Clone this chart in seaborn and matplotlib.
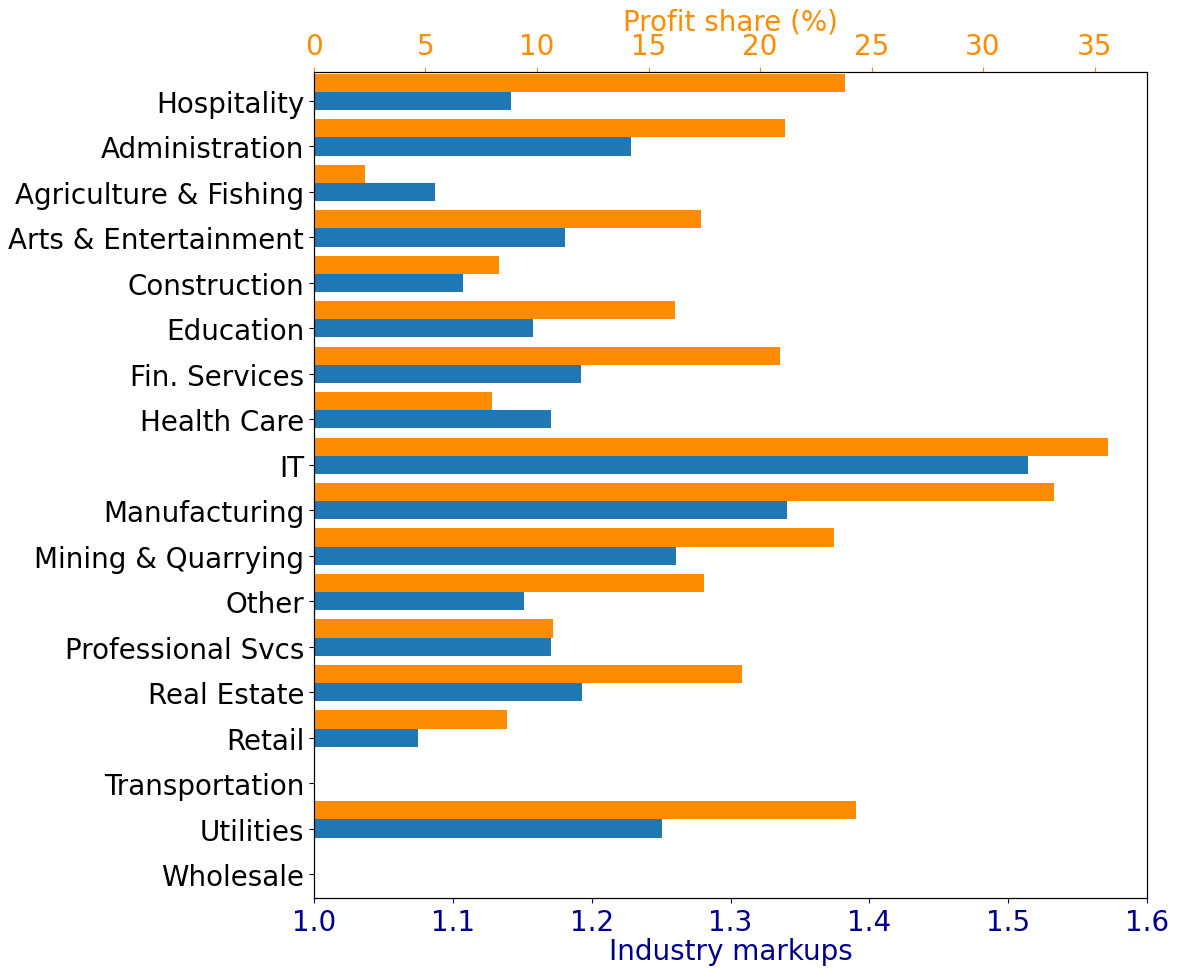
import numpy as np
import pandas as pd
import matplotlib
matplotlib.use("Agg")
import matplotlib.pyplot as plt
import seaborn as sns

industries = ["Hospitality", "Administration", "Agriculture & Fishing", "Arts & Entertainment",
              "Construction", "Education", "Fin. Services", "Health Care", "IT", "Manufacturing",
              "Mining & Quarrying", "Other", "Professional Svcs", "Real Estate", "Retail",
              "Transportation", "Utilities", "Wholesale"]
markups = [1.142, 1.228, 1.087, 1.181, 1.107, 1.158, 1.192, 1.171, 1.514, 1.341,
           1.261, 1.151, 1.171, 1.193, 1.075, np.nan, 1.251, np.nan]
profit_share = [23.8, 21.1, 2.3, 17.35, 8.3, 16.2, 20.9, 8.0, 35.6, 33.2,
                23.3, 17.5, 10.7, 19.2, 8.65, np.nan, 24.3, np.nan]

n = len(industries)
df_m = pd.DataFrame({"industry": industries * 2,
                     "series": ["Profit share"] * n + ["Markup"] * n,
                     "value": [np.nan] * n + markups})
df_p = pd.DataFrame({"industry": industries * 2,
                     "series": ["Profit share"] * n + ["Markup"] * n,
                     "value": profit_share + [np.nan] * n})
palette = {"Profit share": "darkorange", "Markup": "#1f77b4"}
hue_order = ["Profit share", "Markup"]

fig = plt.figure(figsize=(11.79, 9.70), dpi=100)
ax = fig.add_axes([0.2663, 0.0732, 0.9729 - 0.2663, 0.9247 - 0.0732])
ax2 = ax.twiny()

sns.barplot(data=df_m, y="industry", x="value", hue="series", hue_order=hue_order,
            order=industries, palette=palette, orient="h", ax=ax, legend=False,
            saturation=1, errorbar=None)
sns.barplot(data=df_p, y="industry", x="value", hue="series", hue_order=hue_order,
            order=industries, palette=palette, orient="h", ax=ax2, legend=False,
            saturation=1, errorbar=None)

fs = 20
ax.set_xlim(1.0, 1.6)
ax.set_xticks([1.0, 1.1, 1.2, 1.3, 1.4, 1.5, 1.6])
ax.set_xlabel("Industry markups", fontsize=fs, color="darkblue", labelpad=1)
ax.tick_params(axis="x", labelsize=fs, colors="darkblue")

ax2.set_xlim(0, 37.35)
ax2.set_xticks([0, 5, 10, 15, 20, 25, 30, 35])
ax2.set_xlabel("Profit share (%)", fontsize=fs, color="darkorange", labelpad=2)
ax2.tick_params(axis="x", labelsize=fs, colors="darkorange", pad=5)

for a in (ax, ax2):
    a.set_ylabel("")
ax.set_yticks(np.arange(n) + 0.2)
ax.set_yticklabels(industries, fontsize=fs)
ax.set_ylim(n - 1 + 0.2 + 0.527, -0.437)
ax2.set_ylim(n - 1 + 0.2 + 0.527, -0.437)

for a in (ax, ax2):
    for s in a.spines.values():
        s.set_color("black")
        s.set_visible(True)

fig.savefig("out.png", dpi=100)
